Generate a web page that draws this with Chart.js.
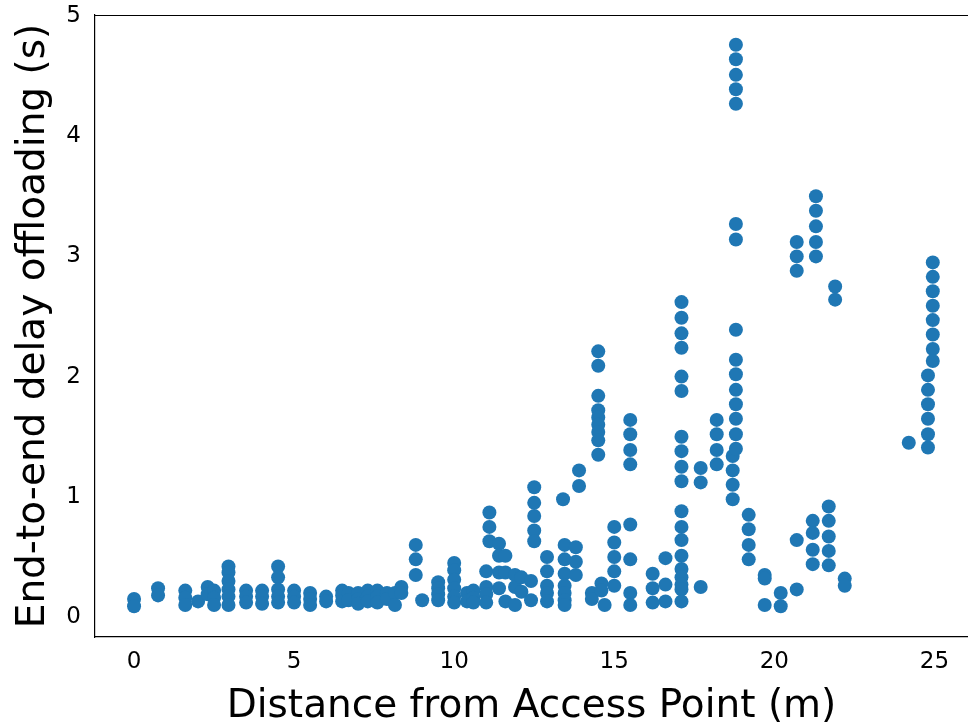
<!DOCTYPE html>
<html>
<head>
<meta charset="utf-8">
<script src="https://cdn.jsdelivr.net/npm/chart.js@4/dist/chart.umd.min.js"></script>
<style>
html,body{margin:0;padding:0;background:#fff;}
#wrap{width:968px;height:728px;position:relative;}
</style>
</head>
<body>
<div id="wrap"><canvas id="c" width="968" height="728"></canvas></div>
<script>
// Distances from access point (m), one per measured column
const distances = [0, 0.75, 1.6, 2.0, 2.3, 2.5, 2.95, 3.5, 4.0, 4.5, 5.0, 5.5, 6.0, 6.5, 6.7, 7.0, 7.3, 7.6, 7.9, 8.15, 8.35,
  8.8, 9.0, 9.5, 10.0, 10.4, 10.6, 11.0, 11.1, 11.4, 11.6, 11.9, 12.1, 12.4, 12.5, 12.9, 13.4, 13.45, 13.8, 13.9,
  14.3, 14.5, 14.6, 14.7, 15.0, 15.5, 16.2, 16.6, 17.1, 17.7, 18.2, 18.7, 18.8, 19.2, 19.7, 20.2, 20.7, 21.2, 21.3,
  21.7, 21.9, 22.2, 24.2, 24.8, 24.95];
// End-to-end delay offloading (s) observed at each distance
const delays = [
  [0.15, 0.09], [0.24, 0.18], [0.22, 0.16, 0.10], [0.13], [0.25, 0.19], [0.22, 0.16, 0.10],
  [0.42, 0.37, 0.30, 0.23, 0.17, 0.10], [0.22, 0.17, 0.12], [0.22, 0.17, 0.11], [0.42, 0.33, 0.23, 0.17, 0.12],
  [0.22, 0.17, 0.12], [0.20, 0.15, 0.10], [0.17, 0.13], [0.22, 0.18, 0.13], [0.20, 0.14], [0.20, 0.15, 0.11],
  [0.22, 0.17, 0.13], [0.22, 0.17, 0.12], [0.20, 0.15], [0.20, 0.10], [0.25, 0.20],
  [0.60, 0.48, 0.35], [0.14], [0.29, 0.24, 0.19, 0.14], [0.45, 0.39, 0.31, 0.24, 0.17, 0.12], [0.20, 0.13],
  [0.22, 0.16, 0.12], [0.38, 0.25, 0.19, 0.12], [0.87, 0.75, 0.63], [0.61, 0.51, 0.37, 0.24], [0.51, 0.37, 0.13],
  [0.35, 0.25, 0.10], [0.33, 0.21], [0.30, 0.14], [1.08, 0.95, 0.84, 0.72, 0.63], [0.50, 0.38, 0.26, 0.20, 0.13],
  [0.98], [0.60, 0.48, 0.36, 0.26, 0.20, 0.14, 0.10], [0.58, 0.46, 0.35], [1.22, 1.09],
  [0.20, 0.15], [2.21, 2.09, 1.84, 1.72, 1.66, 1.60, 1.54, 1.47, 1.35], [0.28, 0.22], [0.10],
  [0.75, 0.62, 0.50, 0.38, 0.26], [1.64, 1.52, 1.39, 1.27, 0.77, 0.48, 0.20, 0.10], [0.36, 0.24, 0.12],
  [0.49, 0.27, 0.13],
  [2.62, 2.49, 2.36, 2.24, 2.00, 1.88, 1.50, 1.38, 1.25, 1.13, 0.88, 0.75, 0.64, 0.51, 0.40, 0.33, 0.27, 0.23, 0.13],
  [1.24, 1.12, 0.25], [1.64, 1.52, 1.39, 1.27], [1.34, 1.22, 1.10, 0.98],
  [4.76, 4.64, 4.51, 4.39, 4.27, 3.27, 3.14, 2.39, 2.14, 2.02, 1.89, 1.77, 1.65, 1.52, 1.40],
  [0.85, 0.73, 0.60, 0.48], [0.35, 0.32, 0.10], [0.20, 0.09], [3.12, 3.00, 2.88, 0.64, 0.23],
  [0.80, 0.70, 0.56, 0.44], [3.50, 3.38, 3.25, 3.12, 3.00], [0.92, 0.80, 0.67, 0.55, 0.43], [2.75, 2.64],
  [0.32, 0.26], [1.45], [2.01, 1.89, 1.77, 1.65, 1.52, 1.41],
  [2.95, 2.83, 2.71, 2.59, 2.47, 2.35, 2.23, 2.13]
];
const xTicks = [0, 5, 10, 15, 20, 25];
const yTicks = [0, 1, 2, 3, 4, 5];
const xLabel = 'Distance from Access Point (m)';
const yLabel = 'End-to-end delay offloading (s)';

const points = [];
distances.forEach((d, i) => delays[i].forEach(v => points.push({x: d, y: v})));

const FONT = 'DejaVu Sans';
const topLine = {
  id: 'topLine',
  afterDraw(chart) {
    const {ctx, chartArea} = chart;
    ctx.save();
    ctx.strokeStyle = '#000';
    ctx.lineWidth = 1.2;
    ctx.beginPath();
    ctx.moveTo(chartArea.left, chartArea.top + 0.5);
    ctx.lineTo(chartArea.right, chartArea.top + 0.5);
    ctx.stroke();
    ctx.restore();
  }
};

new Chart(document.getElementById('c'), {
  type: 'scatter',
  data: {
    datasets: [{
      data: points,
      backgroundColor: '#1f77b4',
      borderWidth: 0,
      pointRadius: 7,
      pointHoverRadius: 7
    }]
  },
  options: {
    responsive: false,
    animation: false,
    layout: {autoPadding: false, padding: {top: 15, right: 0, left: 0, bottom: 0}},
    plugins: {legend: {display: false}, tooltip: {enabled: false}},
    scales: {
      x: {
        type: 'linear',
        min: -1.22, max: 26.05,
        afterBuildTicks(s) { s.ticks = xTicks.map(v => ({value: v})); },
        afterFit(s) { s.height = 91; s.paddingRight = 0; s.paddingLeft = 0; },
        grid: {display: false, drawOnChartArea: false, drawTicks: true, tickLength: 7, tickColor: '#000', tickWidth: 1.2},
        border: {display: true, color: '#000', width: 1.2},
        ticks: {color: '#000', font: {family: FONT, size: 23}, padding: 4, maxRotation: 0},
        title: {display: true, text: xLabel, color: '#000', font: {family: FONT, size: 39, lineHeight: 1}, padding: {top: 0, bottom: 1.5}}
      },
      y: {
        type: 'linear',
        min: -0.166, max: 5.008,
        afterBuildTicks(s) { s.ticks = yTicks.map(v => ({value: v})); },
        afterFit(s) { s.width = 95; s.paddingTop = 0; s.paddingBottom = 0; },
        grid: {display: false, drawOnChartArea: false, drawTicks: true, tickLength: 7, tickColor: '#000', tickWidth: 1.2},
        border: {display: true, color: '#000', width: 1.2},
        ticks: {color: '#000', font: {family: FONT, size: 23}, padding: 7},
        title: {display: true, text: yLabel, color: '#000', font: {family: FONT, size: 39, lineHeight: 1}, padding: {top: 14, bottom: 0}}
      }
    }
  },
  plugins: [topLine]
});
</script>
</body>
</html>
